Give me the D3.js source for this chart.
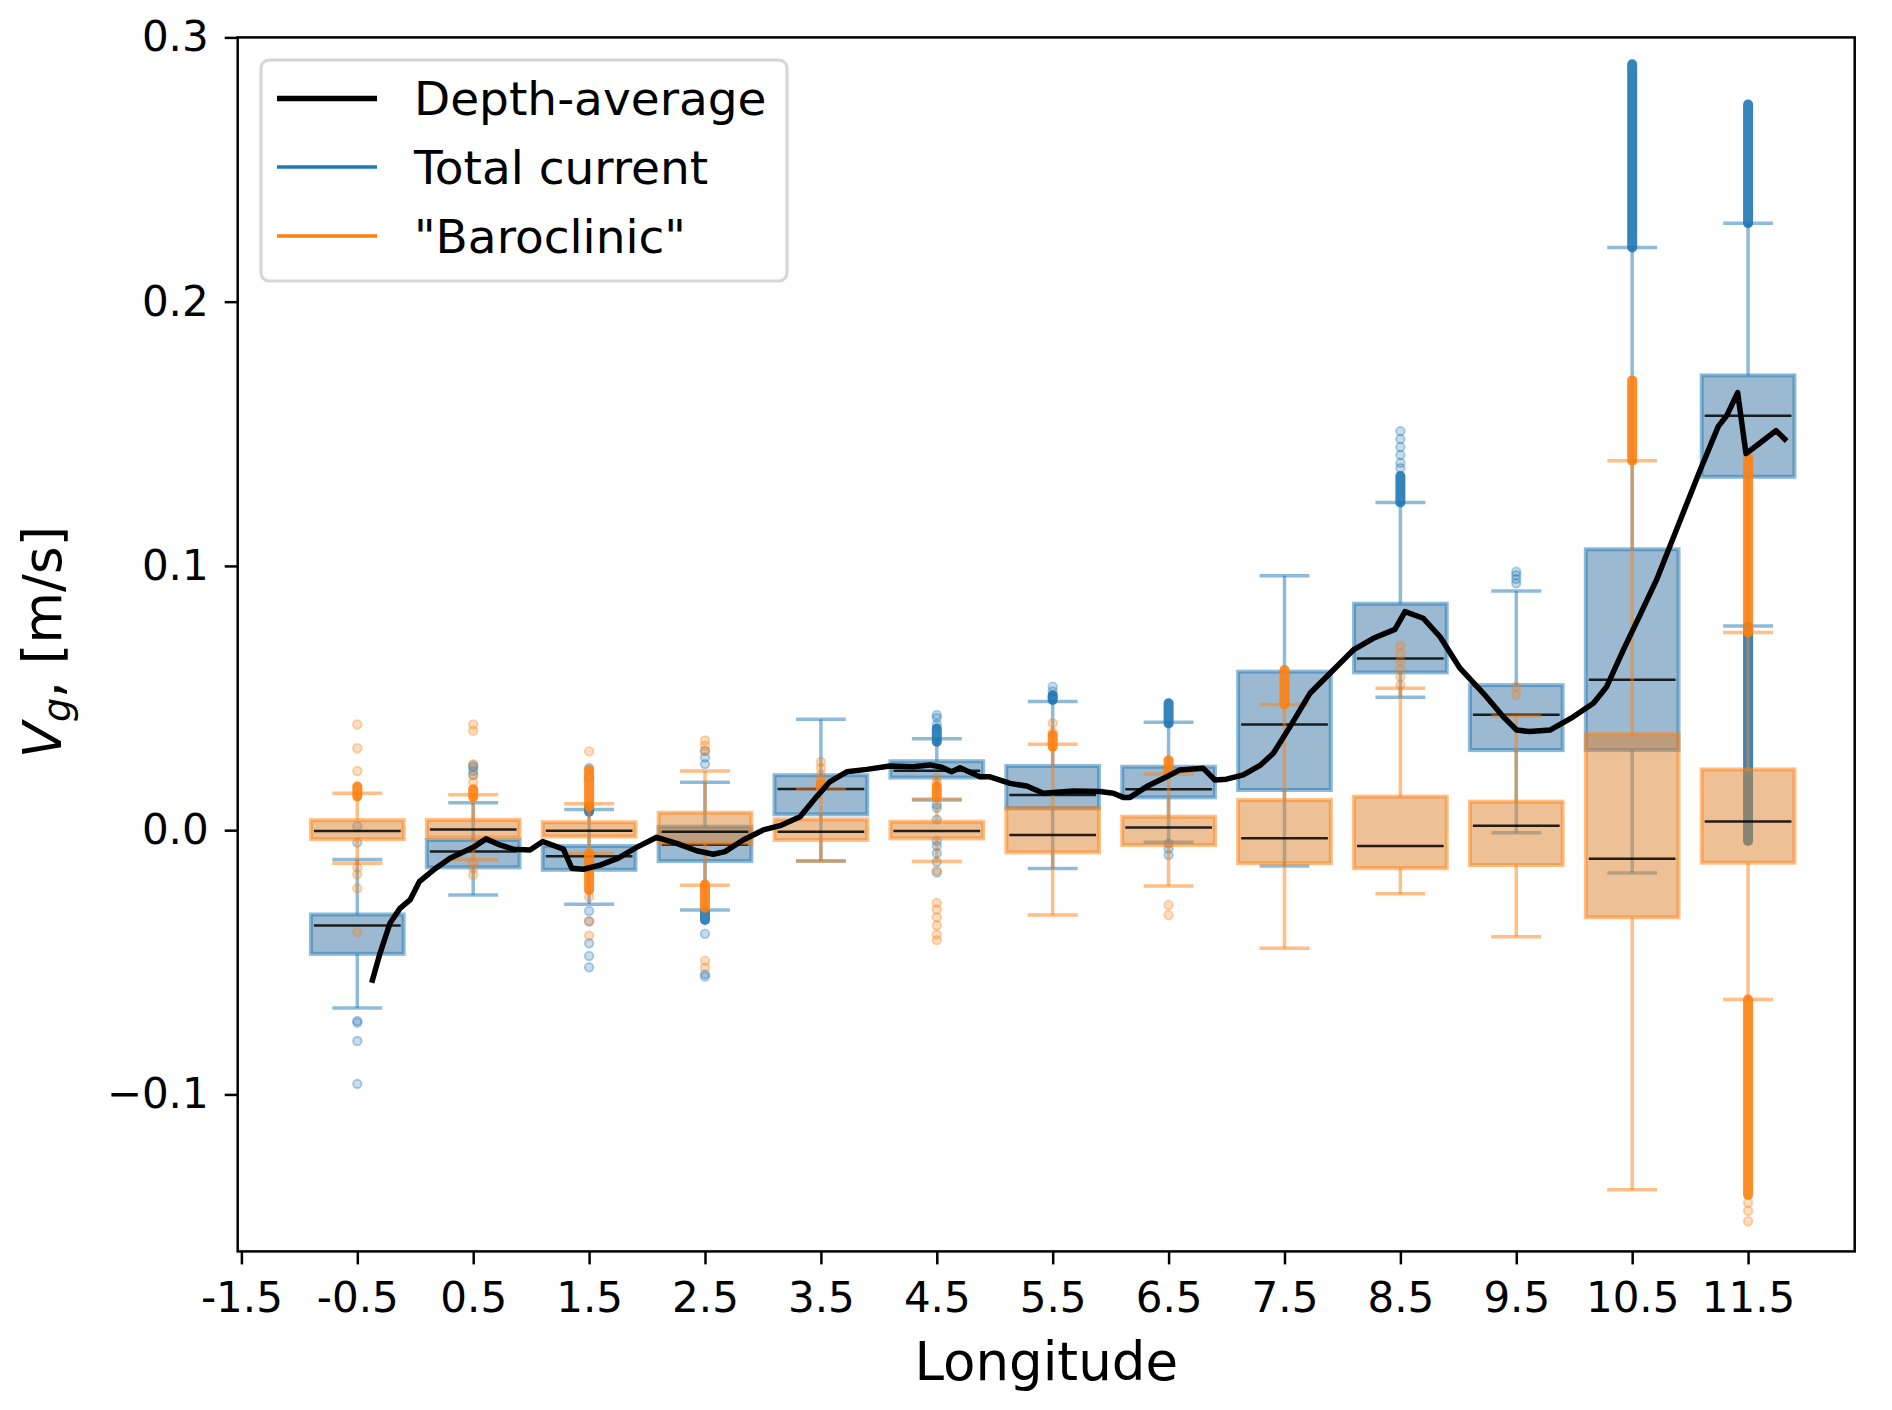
<!DOCTYPE html>
<html>
<head>
<meta charset="utf-8">
<script src="https://cdn.jsdelivr.net/npm/d3@7"></script>
<style>
  body { margin: 0; background: #fff; }
  svg { display: block; font-family: "DejaVu Sans", sans-serif; }
</style>
</head>
<body>
<svg id="chart" width="1892" height="1410"></svg>
<script>
// box positions (longitude bins) and axis ticks
var positions = [-0.5, 0.5, 1.5, 2.5, 3.5, 4.5, 5.5, 6.5, 7.5, 8.5, 9.5, 10.5, 11.5];
var xTicks = [-1.5, -0.5, 0.5, 1.5, 2.5, 3.5, 4.5, 5.5, 6.5, 7.5, 8.5, 9.5, 10.5, 11.5];
var yTicks = [-0.1, 0.0, 0.1, 0.2, 0.3];

// Total current boxes
var totalQ1  = [-0.0468, -0.0141, -0.0150, -0.0117, 0.0060, 0.0199, 0.0083, 0.0124, 0.0152, 0.0597, 0.0303, 0.0303, 0.1337];
var totalMed = [-0.0361, -0.0081, -0.0099, -0.0055, 0.0156, 0.0225, 0.0133, 0.0155, 0.0400, 0.0650, 0.0437, 0.0569, 0.1568];
var totalQ3  = [-0.0319, -0.0037, -0.0060, 0.0013, 0.0208, 0.0261, 0.0243, 0.0240, 0.0600, 0.0857, 0.0549, 0.1063, 0.1721];
var totalLo  = [-0.0673, -0.0245, -0.0280, -0.0302, -0.0117, 0.0114, -0.0145, -0.0046, -0.0136, 0.0503, -0.0010, -0.0162, 0.0773];
var totalHi  = [-0.0111, 0.0104, 0.0078, 0.0181, 0.0420, 0.0346, 0.0487, 0.0408, 0.0963, 0.1240, 0.0905, 0.2205, 0.2297];
var totalFliers = [
  [0.0015, -0.0047, -0.0722, -0.0728, -0.0798, -0.0960],
  [0.0209, 0.0225, 0.0238, 0.0245],
  [0.0200, 0.0235, -0.0306, -0.0345, -0.0428, -0.0476, -0.0519],
  [0.0250, 0.0275, 0.0300, -0.0392, -0.0545, -0.0554],
  [],
  [0.0400, 0.0425, 0.0436, 0.0097, 0.0085, 0.0040, -0.0040, -0.0060, -0.0087, -0.0120, -0.0160],
  [0.0505, 0.0525, 0.0543],
  [-0.0050, -0.0070, -0.0094],
  [],
  [0.137, 0.139, 0.142, 0.145, 0.148, 0.151],
  [0.0934, 0.0950, 0.0965, 0.0978],
  [],
  []
];
var totalBands = [
  [], [], [[0.0070, 0.0090]], [[-0.0340, -0.0310]], [],
  [[0.0335, 0.0385]], [[0.0493, 0.0510]], [[0.0404, 0.0480]], [],
  [[0.1240, 0.1340]], [], [[0.2205, 0.2898]], [[0.2297, 0.2746], [-0.0041, 0.0772]]
];

// "Baroclinic" boxes
var clinQ1  = [-0.0034, -0.0028, -0.0024, -0.0050, -0.0037, -0.0031, -0.0084, -0.0056, -0.0125, -0.0144, -0.0132, -0.0330, -0.0123];
var clinMed = [-0.0003, 0.0003, -0.0002, -0.0006, -0.0006, -0.0003, -0.0018, 0.0010, -0.0031, -0.0060, 0.0017, -0.0108, 0.0033];
var clinQ3  = [0.0038, 0.0039, 0.0030, 0.0066, 0.0041, 0.0032, 0.0083, 0.0051, 0.0114, 0.0127, 0.0108, 0.0363, 0.0230];
var clinLo  = [-0.0125, -0.0111, -0.0088, -0.0208, -0.0117, -0.0119, -0.0321, -0.0211, -0.0447, -0.0241, -0.0403, -0.1361, -0.0641];
var clinHi  = [0.0140, 0.0134, 0.0100, 0.0224, 0.0157, 0.0118, 0.0325, 0.0213, 0.0476, 0.0537, 0.0432, 0.1398, 0.0748];
var clinFliers = [
  [0.0224, 0.0310, 0.0400, -0.0142, -0.0167, -0.0220, -0.0386],
  [0.0181, 0.0209, 0.0250, 0.0376, 0.0400, -0.0124, -0.0145, -0.0169],
  [0.0298, -0.0252, -0.0345, -0.0399],
  [0.0300, 0.0320, 0.0340, -0.0494, -0.0520],
  [0.0190, 0.0210, 0.0235, 0.0258],
  [0.0180, 0.0198, -0.0153, -0.0275, -0.0300, -0.0330, -0.0360, -0.0395, -0.0416],
  [0.0370, 0.0405],
  [-0.0283, -0.0321],
  [],
  [0.0550, 0.0580, 0.0610, 0.0640, 0.0670, 0.0697],
  [0.0512, 0.0543],
  [],
  [-0.1410, -0.1440, -0.1480]
];
var clinBands = [
  [[0.0128, 0.0165]], [[0.0126, 0.0155]], [[0.0089, 0.0228], [-0.0226, -0.0087]], [[-0.0294, -0.0206]],
  [[0.0160, 0.0175]], [[0.0127, 0.0165]], [[0.0316, 0.0360]], [[0.0216, 0.0264]], [[0.0476, 0.0606]],
  [], [], [[0.1398, 0.1702]], [[0.0748, 0.1409], [-0.1380, -0.0641]]
];

// depth-averaged velocity along longitude
var depthLon = [-0.376, -0.304, -0.218, -0.132, -0.045, 0.035, 0.156, 0.300, 0.501, 0.610, 0.731, 0.846, 0.990,
  1.100, 1.278, 1.350, 1.450, 1.594, 1.752, 1.910, 2.083, 2.256, 2.428, 2.572, 2.673, 2.830, 3.003, 3.147,
  3.320, 3.464, 3.579, 3.723, 3.895, 4.096, 4.297, 4.441, 4.542, 4.628, 4.700, 4.873, 4.959, 5.132, 5.276,
  5.420, 5.677, 5.908, 6.023, 6.109, 6.167, 6.311, 6.484, 6.598, 6.800, 6.900, 7.000, 7.145, 7.289, 7.404,
  7.548, 7.720, 7.893, 8.094, 8.267, 8.453, 8.540, 8.697, 8.842, 9.014, 9.216, 9.388, 9.503, 9.618, 9.791,
  9.992, 10.165, 10.280, 10.424, 10.567, 10.710, 10.912, 11.085, 11.243, 11.315, 11.410, 11.482, 11.603,
  11.741, 11.833];
var depthVg = [-0.0577, -0.0466, -0.0352, -0.0296, -0.0264, -0.0195, -0.0151, -0.0106, -0.0065, -0.0033, -0.0056, -0.0072, -0.0075,
  -0.0043, -0.0072, -0.0144, -0.0148, -0.0132, -0.0106, -0.0065, -0.0027, -0.0050, -0.0078, -0.0091, -0.0081, -0.0037, 0.0001, 0.0017,
  0.0051, 0.0127, 0.0184, 0.0221, 0.0230, 0.0243, 0.0240, 0.0247, 0.0238, 0.0221, 0.0236, 0.0202, 0.0202, 0.0177, 0.0167,
  0.0140, 0.0148, 0.0146, 0.0140, 0.0124, 0.0124, 0.0165, 0.0202, 0.0228, 0.0234, 0.0190, 0.0193, 0.0209, 0.0245, 0.0291,
  0.0392, 0.0518, 0.0594, 0.0682, 0.0726, 0.0760, 0.0827, 0.0802, 0.0732, 0.0613, 0.0518, 0.0429, 0.0379, 0.0373, 0.0379,
  0.0429, 0.0480, 0.0543, 0.0682, 0.0814, 0.0947, 0.1170, 0.1361, 0.1528, 0.1568, 0.1656, 0.1425, 0.1465,
  0.1512, 0.1473];

var legendNames = ["Depth-average", "Total current", "\"Baroclinic\""];

var svg = d3.select("#chart"),
    axLeft = 237.7, axRight = 1854.7, axTop = 37.4, axBottom = 1251.4,
    blue = "#1f77b4", orange = "#ff7f0e";

var x = d3.scaleLinear().domain([-1.532, 12.42]).range([axLeft, axRight]);
var y = d3.scaleLinear().domain([-0.1594, 0.3]).range([axBottom, axTop]);

var boxW = 0.8, capW = 0.4;

function drawSeries(q1, med, q3, lo, hi, fliers, bands, lineCol, fillCol) {
    var g = svg.append("g");
    positions.forEach(function (p, i) {
        var cx = x(p);
        // whiskers
        g.append("line").attr("x1", cx).attr("x2", cx).attr("y1", y(q1[i])).attr("y2", y(lo[i]))
            .attr("stroke", lineCol).attr("stroke-opacity", 0.5).attr("stroke-width", 3.5);
        g.append("line").attr("x1", cx).attr("x2", cx).attr("y1", y(q3[i])).attr("y2", y(hi[i]))
            .attr("stroke", lineCol).attr("stroke-opacity", 0.5).attr("stroke-width", 3.5);
        // caps
        [lo[i], hi[i]].forEach(function (v) {
            g.append("line")
                .attr("x1", x(p - capW / 2)).attr("x2", x(p + capW / 2))
                .attr("y1", y(v)).attr("y2", y(v))
                .attr("stroke", lineCol).attr("stroke-opacity", 0.5).attr("stroke-width", 3.5)
                .attr("stroke-linecap", "square");
        });
        // box
        g.append("rect")
            .attr("x", x(p - boxW / 2)).attr("width", x(p + boxW / 2) - x(p - boxW / 2))
            .attr("y", y(q3[i])).attr("height", y(q1[i]) - y(q3[i]))
            .attr("fill", fillCol).attr("fill-opacity", 0.5)
            .attr("stroke", lineCol).attr("stroke-opacity", 0.5).attr("stroke-width", 4);
        // median
        g.append("line")
            .attr("x1", x(p - boxW / 2) + 3).attr("x2", x(p + boxW / 2) - 3)
            .attr("y1", y(med[i])).attr("y2", y(med[i]))
            .attr("stroke", "#000").attr("stroke-opacity", 0.85).attr("stroke-width", 2.5);
        // dense runs of outliers
        bands[i].forEach(function (b) {
            g.append("line").attr("x1", cx).attr("x2", cx).attr("y1", y(b[0])).attr("y2", y(b[1]))
                .attr("stroke", lineCol).attr("stroke-opacity", 0.9).attr("stroke-width", 10)
                .attr("stroke-linecap", "round");
        });
        // single outliers
        g.selectAll(null).data(fliers[i]).enter().append("circle")
            .attr("cx", cx).attr("cy", function (d) { return y(d); }).attr("r", 4.3)
            .attr("fill", lineCol).attr("fill-opacity", 0.25)
            .attr("stroke", lineCol).attr("stroke-opacity", 0.35).attr("stroke-width", 1.8);
    });
}

drawSeries(totalQ1, totalMed, totalQ3, totalLo, totalHi, totalFliers, totalBands, blue, "#3773a1");
drawSeries(clinQ1, clinMed, clinQ3, clinLo, clinHi, clinFliers, clinBands, orange, "#dd812d");

// depth-average line
var line = d3.line().x(function (d) { return x(d[0]); }).y(function (d) { return y(d[1]); });
svg.append("path")
    .datum(d3.zip(depthLon, depthVg))
    .attr("d", line)
    .attr("fill", "none").attr("stroke", "#000").attr("stroke-width", 5.5)
    .attr("stroke-linejoin", "round");

// axes
var xAxis = svg.append("g").attr("transform", "translate(0," + axBottom + ")")
    .call(d3.axisBottom(x).tickValues(xTicks).tickSize(13).tickPadding(18)
        .tickFormat(function (d) { return d.toFixed(1); }));
var yAxis = svg.append("g").attr("transform", "translate(" + axLeft + ",0)")
    .call(d3.axisLeft(y).tickValues(yTicks).tickSize(13).tickPadding(16)
        .tickFormat(d3.format(".1f")));
[xAxis, yAxis].forEach(function (a) {
    a.select(".domain").remove();
    a.selectAll(".tick line").attr("stroke", "#000").attr("stroke-width", 2.5);
    a.selectAll(".tick text").attr("fill", "#000").style("font-size", "42px")
        .style("font-family", "'DejaVu Sans', sans-serif");
});

svg.append("rect")
    .attr("x", axLeft).attr("y", axTop).attr("width", axRight - axLeft).attr("height", axBottom - axTop)
    .attr("fill", "none").attr("stroke", "#000").attr("stroke-width", 2.5);

// axis labels
svg.append("text")
    .attr("x", (axLeft + axRight) / 2).attr("y", 1380)
    .attr("text-anchor", "middle").style("font-size", "53px")
    .text("Longitude");

var yl = svg.append("text")
    .attr("transform", "translate(61,642) rotate(-90)")
    .attr("text-anchor", "middle").style("font-size", "53px");
yl.append("tspan").style("font-style", "italic").text("V");
yl.append("tspan").style("font-style", "italic").style("font-size", "38px").attr("dy", 9).text("g");
yl.append("tspan").attr("dy", -9).text(", [m/s]");

// legend
var lg = svg.append("g");
lg.append("rect")
    .attr("x", 261).attr("y", 60).attr("width", 526).attr("height", 221).attr("rx", 8)
    .attr("fill", "#fff").attr("fill-opacity", 0.8)
    .attr("stroke", "#d6d6d6").attr("stroke-width", 3);
var legendColors = ["#000", blue, orange],
    legendWidths = [5.5, 3.5, 3.5],
    legendY = [98.5, 167, 236];
legendNames.forEach(function (name, i) {
    lg.append("line").attr("x1", 277).attr("x2", 377).attr("y1", legendY[i]).attr("y2", legendY[i])
        .attr("stroke", legendColors[i]).attr("stroke-width", legendWidths[i]);
    lg.append("text").attr("x", 414).attr("y", legendY[i]).attr("dy", "0.36em")
        .style("font-size", "47px").text(name);
});
</script>
</body>
</html>
